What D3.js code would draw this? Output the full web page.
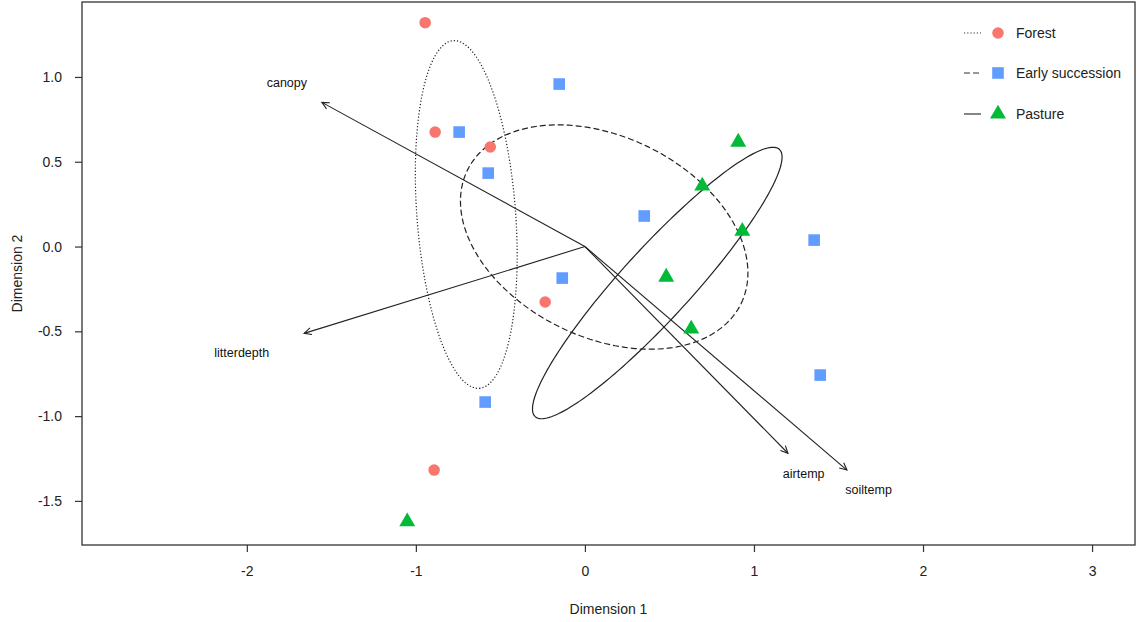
<!DOCTYPE html>
<html><head><meta charset="utf-8">
<script src="https://cdn.jsdelivr.net/npm/d3@7"></script>
<style>body{margin:0;background:#fff;} text{font-family:Arial,"Liberation Sans",sans-serif;}</style>
</head><body><svg id="c" width="1137" height="622"></svg>
<script>
// ---- data ----
const groups = ["Forest", "Early succession", "Pasture"];
const groupColors = ["#F8766D", "#619CFF", "#00BA38"];
const forestX = [-0.945, -0.886, -0.560, -0.235, -0.892];
const forestY = [1.320, 0.675, 0.587, -0.327, -1.318];
const earlyX = [-0.152, -0.744, -0.572, 0.351, -0.134, -0.590, 1.356, 1.392];
const earlyY = [0.958, 0.675, 0.433, 0.180, -0.186, -0.917, 0.038, -0.758];
const pastureX = [0.907, 0.694, 0.931, 0.481, 0.629, -1.051];
const pastureY = [0.616, 0.357, 0.091, -0.180, -0.486, -1.623];
// ellipses: center x, center y, semi-axis a, semi-axis b, rotation (deg)
const ellCX = [-0.702, 0.114, 0.428];
const ellCY = [0.189, 0.056, -0.215];
const ellA = [1.028, 0.900, 1.069];
const ellB = [0.292, 0.592, 0.207];
const ellAngle = [-85.7, -25.8, 47.5];
const ellDash = ["1.2,2", "6,3", null];
// vectors
const vecNames = ["canopy", "litterdepth", "airtemp", "soiltemp"];
const vecX = [-1.556, -1.661, 1.201, 1.550];
const vecY = [0.850, -0.512, -1.219, -1.318];
const labX = [-1.763, -2.030, 1.294, 1.678];
const labY = [0.966, -0.626, -1.337, -1.432];
const xTicks = [-2, -1, 0, 1, 2, 3];
const yTicks = [-1.5, -1.0, -0.5, 0.0, 0.5, 1.0];

// ---- chart ----
const svg = d3.select("#c");
const L = 82, R = 1135, T = 2, B = 545;
const x = d3.scaleLinear().domain([-2.975, 3.254]).range([L, R]);
const y = d3.scaleLinear().domain([-1.760, 1.442]).range([B, T]);
const axisCol = "#333";

// box
svg.append("rect").attr("x", L).attr("y", T).attr("width", R - L).attr("height", B - T)
  .attr("fill", "none").attr("stroke", axisCol).attr("stroke-width", 1.3);

// axes
const xa = svg.append("g").attr("transform", `translate(0,${B})`)
  .call(d3.axisBottom(x).tickValues(xTicks).tickSize(7).tickPadding(14).tickFormat(d3.format("d")));
const ya = svg.append("g").attr("transform", `translate(${L},0)`)
  .call(d3.axisLeft(y).tickValues(yTicks).tickSize(7).tickPadding(13).tickFormat(d3.format(".1f")));
[xa, ya].forEach(g => {
  g.select(".domain").remove();
  g.selectAll("line").attr("stroke", axisCol).attr("stroke-width", 1.2);
  g.selectAll("text").attr("font-size", 14).attr("fill", "#222")
    .style("font-family", "Arial, 'Liberation Sans', sans-serif");
});
ya.selectAll("text").text(d => d3.format(".1f")(d).replace("−", "-"));
xa.selectAll("text").text(d => String(d));

// axis titles
svg.append("text").attr("x", (L + R) / 2).attr("y", 614).attr("text-anchor", "middle")
  .attr("font-size", 14).attr("fill", "#222").text("Dimension 1");
svg.append("text").attr("transform", `translate(22,${(T + B) / 2}) rotate(-90)`)
  .attr("text-anchor", "middle").attr("font-size", 14).attr("fill", "#222").text("Dimension 2");

// ellipses
const line = d3.line().x(d => x(d[0])).y(d => y(d[1])).curve(d3.curveLinearClosed);
groups.forEach((g, i) => {
  const phi = ellAngle[i] * Math.PI / 180;
  const pts = d3.range(0, 360, 2).map(deg => {
    const t = deg * Math.PI / 180;
    const u = ellA[i] * Math.cos(t), v = ellB[i] * Math.sin(t);
    return [ellCX[i] + u * Math.cos(phi) - v * Math.sin(phi),
            ellCY[i] + u * Math.sin(phi) + v * Math.cos(phi)];
  });
  svg.append("path").attr("d", line(pts)).attr("fill", "none")
    .attr("stroke", "#222").attr("stroke-width", 1.2)
    .attr("stroke-dasharray", ellDash[i]);
});

// vectors
vecNames.forEach((n, i) => {
  const x0 = x(0), y0 = y(0), x1 = x(vecX[i]), y1 = y(vecY[i]);
  svg.append("line").attr("x1", x0).attr("y1", y0).attr("x2", x1).attr("y2", y1)
    .attr("stroke", "#222").attr("stroke-width", 1.1);
  const ang = Math.atan2(y1 - y0, x1 - x0), hl = 8, ha = 0.45;
  const p1 = [x1 - hl * Math.cos(ang - ha), y1 - hl * Math.sin(ang - ha)];
  const p2 = [x1 - hl * Math.cos(ang + ha), y1 - hl * Math.sin(ang + ha)];
  svg.append("path").attr("d", `M${p1}L${x1},${y1}L${p2}`).attr("fill", "none")
    .attr("stroke", "#222").attr("stroke-width", 1.1);
  svg.append("text").attr("x", x(labX[i])).attr("y", y(labY[i])).attr("dy", "0.35em")
    .attr("text-anchor", "middle").attr("font-size", 12.5).attr("fill", "#111").text(n);
});

// points
const sym = [d3.symbolCircle, d3.symbolSquare, d3.symbolTriangle];
const symSize = [105, 135, 110];
const allX = [forestX, earlyX, pastureX], allY = [forestY, earlyY, pastureY];
groups.forEach((g, i) => {
  svg.append("g").selectAll("path").data(d3.range(allX[i].length)).join("path")
    .attr("transform", j => `translate(${x(allX[i][j])},${y(allY[i][j])})`)
    .attr("d", d3.symbol().type(sym[i]).size(symSize[i]))
    .attr("fill", groupColors[i]);
});

// legend
const legY = [33, 73, 114];
groups.forEach((g, i) => {
  const gy = legY[i];
  svg.append("line").attr("x1", 964).attr("x2", 981).attr("y1", gy).attr("y2", gy)
    .attr("stroke", "#333").attr("stroke-width", 1.2).attr("stroke-dasharray", ellDash[i]);
  svg.append("path").attr("transform", `translate(998,${gy})`)
    .attr("d", d3.symbol().type(sym[i]).size(symSize[i])).attr("fill", groupColors[i]);
  svg.append("text").attr("x", 1016).attr("y", gy).attr("dy", "0.35em")
    .attr("font-size", 14).attr("fill", "#222").text(g);
});
</script></body></html>
